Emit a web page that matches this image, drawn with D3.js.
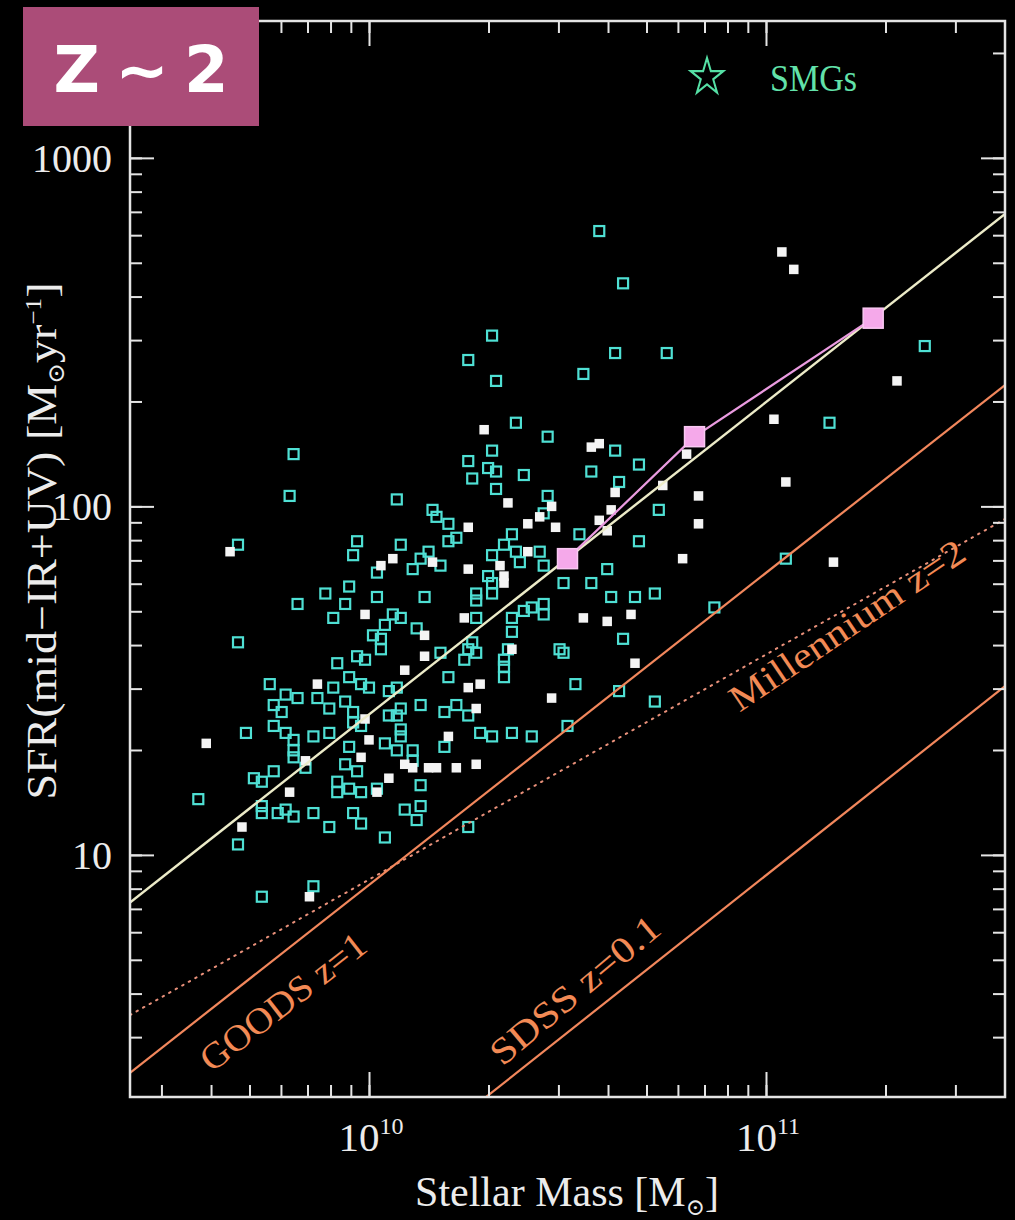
<!DOCTYPE html>
<html><head><meta charset="utf-8">
<script src="https://cdn.jsdelivr.net/npm/d3@7"></script>
<style>html,body{margin:0;padding:0;background:#000;} svg{display:block}</style>
</head><body>
<svg id="chart" width="1015" height="1220"></svg>
<script>
// ---------- DATA (log10 stellar mass [Msun], log10 SFR [Msun/yr]) ----------
// z~2 galaxies detected at 24um (open cyan squares)
const cyanPoints = [
 [10.58,2.79],[10.64,2.64],[10.31,2.49],[10.25,2.42],[10.32,2.36],[10.62,2.44],[10.75,2.44],[10.54,2.38],[10.37,2.24],[10.45,2.20],
 [11.40,2.46],[11.16,2.24],[9.81,2.15],[9.80,2.03],[10.31,2.16],[10.25,2.13],[10.30,2.11],[10.32,2.10],[10.26,2.08],[10.39,2.09],
 [10.32,2.05],[10.07,2.02],[10.45,2.03],[10.44,1.98],[10.62,2.16],[10.68,2.12],[10.56,2.10],[10.63,2.07],[10.73,1.99],[10.53,1.92],
 [10.68,1.90],[9.67,1.89],[9.97,1.90],[9.96,1.86],[10.16,1.99],[10.17,1.97],[10.20,1.95],[10.22,1.91],[10.20,1.90],[10.36,1.92],
 [10.34,1.89],[10.08,1.89],[10.15,1.87],[10.13,1.85],[10.31,1.86],[10.43,1.87],[10.37,1.87],[10.38,1.84],[10.18,1.83],[10.11,1.82],
 [10.02,1.81],[10.44,1.83],[10.30,1.80],[10.31,1.78],[9.95,1.77],[9.89,1.75],[9.94,1.72],[9.82,1.72],[9.91,1.68],[10.02,1.74],
 [10.27,1.75],[10.27,1.73],[10.31,1.75],[10.14,1.74],[10.44,1.72],[10.41,1.71],[10.39,1.70],[10.36,1.68],[10.44,1.69],[10.06,1.69],
 [10.08,1.68],[10.04,1.66],[10.01,1.63],[10.03,1.62],[10.03,1.59],[10.12,1.65],[10.27,1.68],[10.36,1.64],[10.26,1.61],[10.25,1.59],
 [10.24,1.56],[10.27,1.58],[10.35,1.59],[10.18,1.58],[10.34,1.56],[10.34,1.54],[10.48,1.59],[9.67,1.61],[9.97,1.57],[9.99,1.56],
 [9.92,1.55],[9.95,1.51],[10.20,1.51],[10.34,1.51],[10.05,1.47],[10.07,1.48],[10.08,1.42],[10.13,1.43],[10.05,1.40],[10.07,1.40],
 [10.19,1.41],[10.22,1.43],[10.25,1.40],[10.08,1.36],[10.08,1.34],[10.04,1.32],[10.07,1.30],[10.11,1.30],[10.19,1.31],[10.28,1.35],
 [10.31,1.34],[10.36,1.35],[10.41,1.34],[10.11,1.27],[10.02,1.19],[10.13,1.20],[10.09,1.13],[10.13,1.14],[10.12,1.10],[10.04,1.05],
 [10.25,1.08],[9.75,1.49],[9.79,1.46],[9.82,1.45],[9.87,1.45],[9.91,1.48],[9.98,1.49],[10.00,1.48],[9.76,1.43],[9.78,1.41],
 [9.90,1.42],[9.94,1.44],[9.96,1.41],[9.69,1.35],[9.76,1.37],[9.79,1.35],[9.81,1.33],[9.86,1.34],[9.90,1.35],[9.96,1.38],
 [9.98,1.37],[9.81,1.30],[9.81,1.28],[9.84,1.25],[9.95,1.31],[9.94,1.26],[9.97,1.24],[9.76,1.24],[9.71,1.22],[9.73,1.21],
 [9.92,1.21],[9.92,1.18],[9.95,1.19],[9.98,1.18],[9.57,1.16],[9.73,1.14],[9.73,1.12],[9.77,1.12],[9.79,1.13],[9.81,1.11],
 [9.86,1.12],[9.96,1.12],[9.98,1.09],[9.90,1.08],[9.67,1.03],[9.86,0.91],[9.73,0.88],[10.60,1.82],[10.49,1.78],[10.56,1.78],
 [10.61,1.74],[10.67,1.74],[10.72,1.75],[10.87,1.71],[10.64,1.62],[10.49,1.58],[10.52,1.49],[10.63,1.47],[10.72,1.44],[10.50,1.37],
 [11.05,1.85]
];
// galaxies with filled white squares
const whitePoints = [
 [11.04,2.73],[11.07,2.68],[11.33,2.36],[11.02,2.25],[10.29,2.22],[10.56,2.17],[10.58,2.18],[10.80,2.15],[11.05,2.07],[10.35,2.01],
 [10.46,2.00],[10.25,1.94],[10.40,1.95],[10.43,1.97],[10.62,2.04],[10.74,2.06],[10.83,2.03],[10.83,1.95],[10.61,1.99],[10.58,1.96],
 [10.60,1.93],[10.47,1.94],[10.40,1.87],[10.16,1.84],[10.06,1.85],[10.03,1.83],[10.25,1.82],[10.33,1.83],[10.34,1.80],[10.34,1.78],
 [10.79,1.85],[11.17,1.84],[10.24,1.68],[10.14,1.63],[10.36,1.59],[10.14,1.57],[10.09,1.53],[10.54,1.68],[10.60,1.67],[10.66,1.69],
 [10.67,1.55],[10.46,1.45],[10.25,1.48],[10.28,1.49],[10.27,1.42],[10.20,1.34],[10.27,1.26],[10.22,1.25],[10.15,1.25],[10.17,1.25],
 [10.09,1.26],[10.11,1.25],[10.05,1.22],[10.02,1.18],[9.65,1.87],[9.99,1.69],[9.87,1.49],[9.59,1.32],[9.99,1.39],[10.00,1.33],
 [9.84,1.27],[9.98,1.28],[9.80,1.18],[9.68,1.08],[9.85,0.88]
];
// binned medians (pink squares)
const binnedPoints = [[10.50,1.85],[10.82,2.20],[11.27,2.54]];
// relations (end points, linear units)
const mainSeqMass = [2.5e9, 4e11],   mainSeqSfr = [7.3, 690];
const goodsMass = [2.5e9, 4e11],     goodsSfr = [2.37, 223];
const sdssMass = [1.95e10, 4e11],    sdssSfr = [2.0, 30.5];
const millenniumMass = [2.5e9, 4e11], millenniumSfr = [3.47, 92];
const yTickLabels = [10, 100, 1000];
const xTickLabels = [1e10, 1e11];
const xTickExponents = ["10", "11"];

// ---------- CHART ----------
const W = 1015, H = 1220;
const L = 130, R = 1005, T = 21, B = 1097;
const svg = d3.select("#chart");
svg.append("rect").attr("width", W).attr("height", H).attr("fill", "#000");

const x = d3.scaleLog().domain([2.5e9, 4e11]).range([L, R]);
const y = d3.scaleLog().domain([2.02, 2470]).range([B, T]);
const serif = "'Liberation Serif','DejaVu Serif',serif";
const axisColor = "#e4e4e4";

svg.append("defs").append("clipPath").attr("id", "plotClip")
  .append("rect").attr("x", L).attr("y", T).attr("width", R - L).attr("height", B - T);

// scatter
const pts = svg.append("g").attr("clip-path", "url(#plotClip)");
const cs = 10;
pts.selectAll("rect.cyan").data(cyanPoints).join("rect").attr("class", "cyan")
  .attr("x", d => x(10 ** d[0]) - cs / 2).attr("y", d => y(10 ** d[1]) - cs / 2)
  .attr("width", cs).attr("height", cs)
  .attr("fill", "none").attr("stroke", "#4fe0d4").attr("stroke-width", 2.2);
const ws = 9.5;
pts.selectAll("rect.white").data(whitePoints).join("rect").attr("class", "white")
  .attr("x", d => x(10 ** d[0]) - ws / 2).attr("y", d => y(10 ** d[1]) - ws / 2)
  .attr("width", ws).attr("height", ws).attr("fill", "#f4f4f4");

// lines
const lines = svg.append("g").attr("clip-path", "url(#plotClip)");
const seg = (m, s) => m.map((v, i) => [x(v), y(s[i])]);
const lineGen = d3.line();
lines.append("path").attr("d", lineGen(seg(millenniumMass, millenniumSfr)))
  .attr("stroke", "#e8907a").attr("stroke-width", 2).attr("stroke-dasharray", "1.5 6")
  .attr("stroke-linecap", "round").attr("fill", "none");
lines.append("path").attr("d", lineGen(seg(goodsMass, goodsSfr)))
  .attr("stroke", "#f2875c").attr("stroke-width", 2.2).attr("fill", "none");
lines.append("path").attr("d", lineGen(seg(sdssMass, sdssSfr)))
  .attr("stroke", "#f2875c").attr("stroke-width", 2.2).attr("fill", "none");
lines.append("path").attr("d", lineGen(seg(mainSeqMass, mainSeqSfr)))
  .attr("stroke", "#ecebc8").attr("stroke-width", 2.4).attr("fill", "none");

// binned pink
const binXY = binnedPoints.map(d => [x(10 ** d[0]), y(10 ** d[1])]);
svg.append("path").attr("d", lineGen(binXY)).attr("stroke", "#ea9be0")
  .attr("stroke-width", 2.2).attr("fill", "none");
const ps = 20;
svg.selectAll("rect.bin").data(binXY).join("rect").attr("class", "bin")
  .attr("x", d => d[0] - ps / 2).attr("y", d => d[1] - ps / 2)
  .attr("width", ps).attr("height", ps).attr("fill", "#f5a9ea").attr("stroke", "#f9c8f2").attr("stroke-width", 1.5);

// line labels
const orangeText = "#f28a55";
function lineLabel(mass, sfr, angle, txt, len) {
  svg.append("text")
    .attr("transform", `translate(${x(mass)},${y(sfr)}) rotate(${angle})`)
    .attr("text-anchor", "middle").attr("dominant-baseline", "central")
    .attr("font-family", serif).attr("font-size", 37).attr("fill", orangeText)
    .attr("textLength", len).attr("lengthAdjust", "spacingAndGlyphs")
    .text(txt);
}
lineLabel(6.07e9, 3.79, -38, "GOODS z=1", 200);
lineLabel(3.3e10, 4.1, -40, "SDSS z=0.1", 210);
lineLabel(1.6e11, 45.6, -34, "Millennium z=2", 276);

// axes ticks (all four sides, pointing inward)
function ticks(axisGen, tr, vals, size) {
  const g = svg.append("g").attr("transform", tr)
    .call(axisGen.tickValues(vals).tickSize(-size).tickFormat(""));
  g.select(".domain").remove();
  g.selectAll("line").attr("stroke", axisColor).attr("stroke-width", 2);
}
const xMinor = x.ticks().filter(v => v > 2.5e9 && v < 4e11);
const yMinor = y.ticks().filter(v => v > 2.02 && v < 2470);
const xMajor = [1e10, 1e11], yMajor = [10, 100, 1000];
ticks(d3.axisBottom(x), `translate(0,${B})`, xMinor, 12);
ticks(d3.axisTop(x), `translate(0,${T})`, xMinor, 12);
ticks(d3.axisLeft(y), `translate(${L},0)`, yMinor, 12);
ticks(d3.axisRight(y), `translate(${R},0)`, yMinor, 12);
ticks(d3.axisBottom(x), `translate(0,${B})`, xMajor, 25);
ticks(d3.axisTop(x), `translate(0,${T})`, xMajor, 25);
ticks(d3.axisLeft(y), `translate(${L},0)`, yMajor, 24);
ticks(d3.axisRight(y), `translate(${R},0)`, yMajor, 24);

// frame
svg.append("rect").attr("x", L).attr("y", T).attr("width", R - L).attr("height", B - T)
  .attr("fill", "none").attr("stroke", axisColor).attr("stroke-width", 2.5);

// y tick labels
svg.selectAll("text.ylab").data(yTickLabels).join("text").attr("class", "ylab")
  .attr("x", 112).attr("y", d => y(d) + 14).attr("text-anchor", "end")
  .attr("font-family", serif).attr("font-size", 40).attr("fill", "#ececec")
  .text(d => d);

// x tick labels 10^n
xTickLabels.forEach((v, i) => {
  const t = svg.append("text").attr("x", x(v) + 2).attr("y", 1151).attr("text-anchor", "middle")
    .attr("font-family", serif).attr("fill", "#ececec");
  t.append("tspan").attr("font-size", 41).text("10");
  t.append("tspan").attr("font-size", 24).attr("dy", -17).text(xTickExponents[i]);
});

// axis titles
const xt = svg.append("text").attr("x", 567).attr("y", 1206).attr("text-anchor", "middle")
  .attr("font-family", serif).attr("font-size", 42).attr("fill", "#ececec");
xt.append("tspan").text("Stellar Mass [M");
xt.append("tspan").attr("font-size", 23).attr("dy", 9).text("⊙");
xt.append("tspan").attr("dy", -9).text("]");

const yt = svg.append("text").attr("transform", "translate(56,541) rotate(-90)")
  .attr("text-anchor", "middle").attr("font-family", serif).attr("font-size", 42).attr("fill", "#ececec")
  .attr("textLength", 517).attr("lengthAdjust", "spacingAndGlyphs");
yt.append("tspan").text("SFR(mid\u2212IR+UV) [M");
yt.append("tspan").attr("font-size", 23).attr("dy", 8).text("⊙");
yt.append("tspan").attr("dy", -8).text("yr");
yt.append("tspan").attr("font-size", 23).attr("dy", -15).text("\u22121");
yt.append("tspan").attr("dy", 15).text("]");

// legend
const starColor = "#55e0a5";
svg.append("path").attr("d", d3.symbol(d3.symbolStar, 330)())
  .attr("transform", "translate(707,77) scale(1,1.12)")
  .attr("fill", "none").attr("stroke", starColor).attr("stroke-width", 2);
svg.append("text").attr("x", 770).attr("y", 91).attr("font-family", serif).attr("font-size", 38)
  .attr("fill", "#62e2aa").attr("textLength", 87).attr("lengthAdjust", "spacingAndGlyphs").text("SMGs");

// redshift tag
svg.append("rect").attr("x", 23).attr("y", 7).attr("width", 236).attr("height", 119).attr("fill", "#ab4c78");
svg.append("text").attr("x", 141).attr("y", 92).attr("text-anchor", "middle")
  .attr("font-family", "'DejaVu Sans',sans-serif").attr("font-weight", "bold").attr("font-size", 64)
  .attr("fill", "#ffffff").attr("textLength", 175).attr("lengthAdjust", "spacing").text("Z ~ 2");
</script>
</body></html>
